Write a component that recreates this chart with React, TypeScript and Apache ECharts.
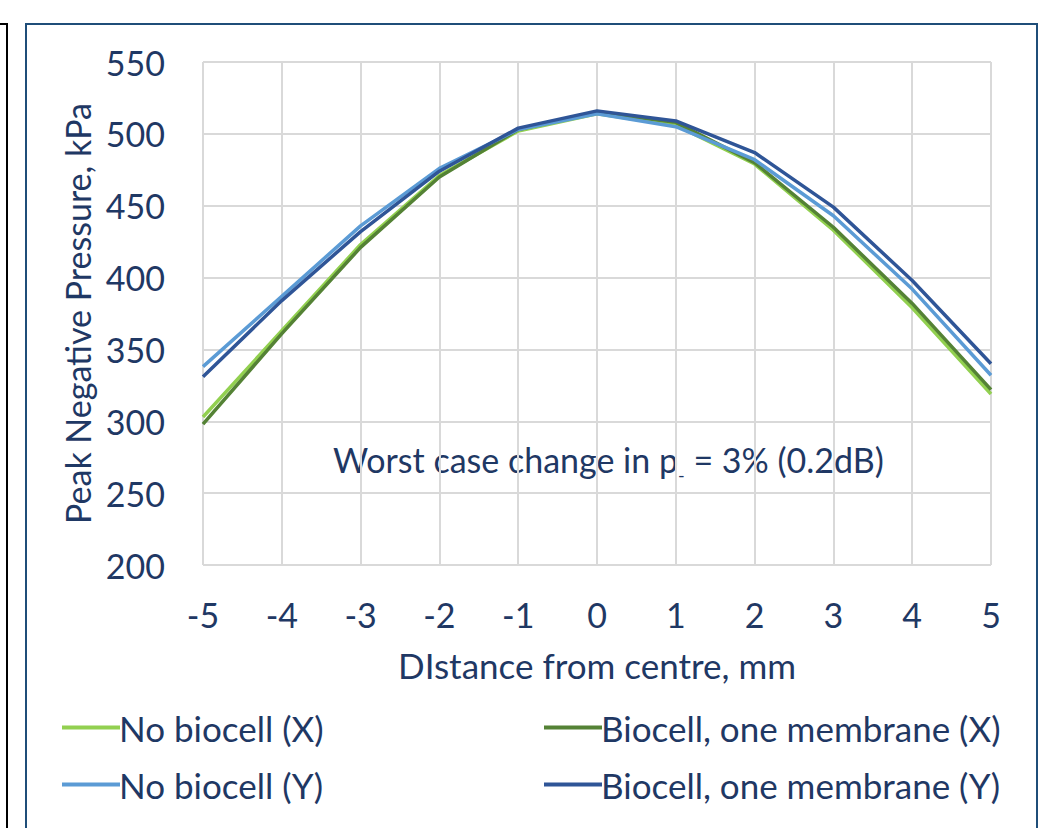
import React, { useEffect, useRef } from "react";
import * as echarts from "echarts";

const distances = [-5, -4, -3, -2, -1, 0, 1, 2, 3, 4, 5];
const noBiocellX = [303, 363, 423, 471, 502, 514, 506, 479, 433, 379, 319];
const biocellX = [298, 361, 421, 470, 503, 515, 508, 480, 435, 382, 322];
const noBiocellY = [338, 387, 436, 476, 503, 514, 505, 482, 443, 392, 332];
const biocellY = [331, 384, 432, 474, 504, 516, 509, 487, 449, 398, 340];

const seriesNames = [
  "No biocell (X)",
  "Biocell, one membrane (X)",
  "No biocell (Y)",
  "Biocell, one membrane (Y)",
];
const seriesColors = ["#92D050", "#548235", "#5B9BD5", "#2F5597"];
const seriesValues = [noBiocellX, biocellX, noBiocellY, biocellY];

const TEXT = "#1F3864";
const FONT = "Lato, 'Open Sans', sans-serif";

export default function App() {
  const ref = useRef<HTMLDivElement>(null);
  useEffect(() => {
    if (!ref.current) return;
    const chart = echarts.init(ref.current, null, { renderer: "svg" });
    const legendText = { fontSize: 35, color: TEXT, fontFamily: FONT, padding: [0, 0, 0, -6] };
    chart.setOption({
      animation: false,
      backgroundColor: "#ffffff",
      textStyle: { fontFamily: FONT, color: TEXT },
      grid: { left: 203, right: 68, top: 62, bottom: 263 },
      xAxis: {
        type: "value",
        min: -5,
        max: 5,
        interval: 1,
        name: "DIstance from centre, mm",
        nameLocation: "middle",
        nameGap: 82,
        nameTextStyle: { fontSize: 35, color: TEXT, fontFamily: FONT },
        axisLine: { show: false },
        axisTick: { show: false },
        axisLabel: { fontSize: 34, color: TEXT, margin: 32, fontFamily: FONT },
        splitLine: { show: true, lineStyle: { color: "#D9D9D9", width: 2 } },
      },
      yAxis: {
        type: "value",
        min: 200,
        max: 550,
        interval: 50,
        name: "Peak Negative Pressure, kPa",
        nameLocation: "middle",
        nameGap: 105,
        nameRotate: 90,
        nameTextStyle: { fontSize: 34, color: TEXT, fontFamily: FONT },
        axisLine: { show: false },
        axisTick: { show: false },
        axisLabel: { fontSize: 34, color: TEXT, margin: 38, fontFamily: FONT },
        splitLine: { show: true, lineStyle: { color: "#D9D9D9", width: 2 } },
      },
      legend: [
        {
          data: [seriesNames[0], seriesNames[2]],
          orient: "vertical",
          left: 57,
          top: 705,
          itemWidth: 58,
          itemHeight: 4,
          itemGap: 22,
          icon: "rect",
          textStyle: legendText,
        },
        {
          data: [seriesNames[1], seriesNames[3]],
          orient: "vertical",
          left: 539,
          top: 705,
          itemWidth: 58,
          itemHeight: 4,
          itemGap: 22,
          icon: "rect",
          textStyle: legendText,
        },
      ],
      graphic: [
        {
          type: "rect",
          shape: { x: -20, y: 24, width: 27, height: 900 },
          style: { fill: "none", stroke: "#000000", lineWidth: 2 },
          silent: true,
        },
        {
          type: "rect",
          shape: { x: 26, y: 24, width: 1011, height: 900 },
          style: { fill: "none", stroke: "#1F4E79", lineWidth: 2 },
          silent: true,
        },
        {
          type: "text",
          left: 333,
          top: 442,
          style: {
            text: "{a|Worst case change in p}{s|-}{a| = 3% (0.2dB)}",
            fill: TEXT,
            rich: {
              a: { fontSize: 34, fontFamily: FONT, fill: TEXT, lineHeight: 34, verticalAlign: "middle" },
              s: { fontSize: 18, fontFamily: FONT, fill: TEXT, lineHeight: 50, verticalAlign: "bottom" },
            },
          },
        },
      ],
      series: seriesNames.map((name, i) => ({
        name,
        type: "line",
        data: distances.map((d, j) => [d, seriesValues[i][j]]),
        symbol: "none",
        smooth: false,
        lineStyle: { color: seriesColors[i], width: 3.5 },
        itemStyle: { color: seriesColors[i] },
      })),
    });
    return () => chart.dispose();
  }, []);
  return (
    <div
      ref={ref}
      style={{ position: "fixed", left: 0, top: 0, width: 1059, height: 828 }}
    />
  );
}
